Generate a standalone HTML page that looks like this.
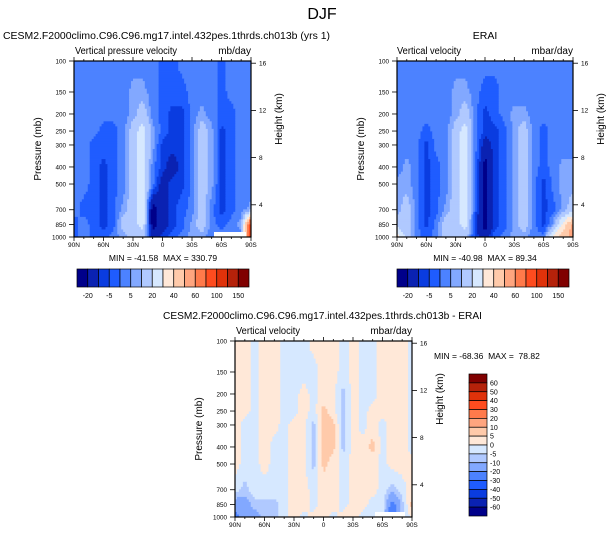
<!DOCTYPE html>
<html><head><meta charset="utf-8"><style>
html,body{margin:0;padding:0;background:#fff;}
svg{display:block;font-family:"Liberation Sans",sans-serif;}
</style></head><body>
<svg id="root" width="609" height="538" viewBox="0 0 609 538">
<text x="322" y="19" font-size="16" text-anchor="middle">DJF</text>
<text x="3" y="39" font-size="10.5" textLength="327" lengthAdjust="spacingAndGlyphs">CESM2.F2000climo.C96.C96.mg17.intel.432pes.1thrds.ch013b (yrs 1)</text>
<text x="485" y="39" font-size="10.5" text-anchor="middle">ERAI</text>
<text x="163" y="319" font-size="10.5" textLength="319" lengthAdjust="spacingAndGlyphs">CESM2.F2000climo.C96.C96.mg17.intel.432pes.1thrds.ch013b - ERAI</text>
<text x="75" y="54" font-size="10" textLength="102" lengthAdjust="spacingAndGlyphs">Vertical pressure velocity</text>
<text x="251" y="54" font-size="10" text-anchor="end">mb/day</text>
<text x="397" y="54" font-size="10" textLength="64" lengthAdjust="spacingAndGlyphs">Vertical velocity</text>
<text x="573" y="54" font-size="10" text-anchor="end">mbar/day</text>
<text x="236" y="334" font-size="10" textLength="64" lengthAdjust="spacingAndGlyphs">Vertical velocity</text>
<text x="412" y="334" font-size="10" text-anchor="end">mbar/day</text>
<text x="163" y="261" font-size="8.5" text-anchor="middle" xml:space="preserve">MIN = -41.58  MAX = 330.79</text>
<text x="485" y="261" font-size="8.5" text-anchor="middle" xml:space="preserve">MIN = -40.98  MAX = 89.34</text>
<text x="434" y="359" font-size="8.5" xml:space="preserve">MIN = -68.36  MAX =  78.82</text>
<g id="panels"></g>
</svg>
<script>
const lats = [90,80,70,60,50,40,30,20,10,0,-10,-20,-30,-40,-50,-60,-70,-80,-90];
const levels = [100,150,200,250,300,400,500,700,850,1000];
const latTicks = ["90N","60N","30N","0","30S","60S","90S"];
const heightTicks = [16,12,8,4];
const absBounds = [-20,-10,-5,0,5,10,20,30,40,50,60,80,100,120,150];
const absLabels = ["-20","-5","5","20","40","60","100","150"];
const diffBounds = [-60,-50,-40,-30,-20,-10,-5,0,5,10,20,30,40,50,60];
const diffLabels = ["-60","-50","-40","-30","-20","-10","-5","0","5","10","20","30","40","50","60"];
const colors = ["#00008a","#0a22b2","#0a3ce0","#1f5cff","#4c82ff","#82a8ff","#b0c9ff","#d6e8ff","#ffe8d8","#ffcaaa","#ffa57f","#ff7a4b","#ff4c1f","#e0320a","#b5220a","#800000"];

const modelOmega = [
[2,2,2,2,2,2,2,2,2,-2,-2,2,2,2,2,-2,2,2,2],
[2,2,2,2,2,2,7,7,2,-2,-2,-2,2,2,2,-2,2,2,2],
[2,2,2,2,2,2,7,15,2,-2,-7,-7,2,7,2,-2,-2,2,2],
[2,2,2,-2,-2,2,15,25,7,-2,-7,-7,2,15,7,-7,-2,2,2],
[2,2,-2,-2,-2,2,15,25,7,-7,-7,-7,2,15,7,-7,-2,2,2],
[2,2,-2,-7,-2,2,15,25,2,-7,-15,-7,2,15,7,-7,-2,2,2],
[2,2,-2,-7,-2,2,15,25,2,-15,-7,-7,2,15,7,-7,-2,2,2],
[2,-2,-2,-7,-2,7,15,25,-25,-15,-7,-2,2,15,2,-7,-2,2,7],
[-2,2,-2,-7,-2,15,15,25,-25,-15,-7,-2,7,15,2,-2,2,7,90],
[-2,2,-2,-2,2,7,15,15,-15,-7,-2,2,7,7,2,2,2,2,90]];
const eraiOmega = [
[2,2,2,2,2,2,2,2,2,2,2,2,2,2,2,2,2,2,2],
[2,2,2,2,2,2,7,7,2,-2,-2,2,2,2,2,2,2,2,2],
[2,2,2,2,2,2,7,15,2,-7,-2,2,7,7,2,2,2,2,2],
[2,2,2,-2,2,2,15,25,2,-7,-7,-2,7,15,2,-2,2,2,2],
[2,2,2,-7,2,2,15,25,2,-15,-7,-2,7,15,2,-2,2,2,2],
[2,7,2,-7,-2,2,15,25,2,-25,-7,-2,7,15,2,-2,2,7,7],
[7,7,2,-7,-2,2,15,25,-2,-25,-7,-2,7,15,2,-7,2,7,7],
[7,15,2,-7,-2,7,15,25,-2,-25,-7,-2,7,15,2,-7,-2,7,15],
[15,15,2,-7,2,15,15,25,-7,-25,-7,-2,7,15,2,-7,7,35,55],
[35,15,2,-2,2,15,15,15,-7,-15,-2,2,7,7,2,2,35,45,55]];
const diffOmega = [
[2,2,-2,2,2,-2,-2,-2,2,2,2,-2,2,-2,-2,2,2,2,-2],
[2,2,-2,2,2,-2,-2,-2,-2,2,2,-2,2,-2,-2,2,2,2,-2],
[2,2,-2,2,2,-2,-2,2,-2,2,2,-7,2,-2,-2,2,2,2,-2],
[2,2,-2,2,2,-2,-2,2,-2,7,2,-7,2,-2,2,2,2,2,-2],
[2,-2,-2,2,2,-2,2,2,-7,7,7,-7,2,-2,2,-2,2,2,-2],
[2,-2,-2,2,-2,-2,2,2,-7,7,7,-7,2,2,7,-2,2,2,-2],
[2,-2,-2,2,-2,-2,2,2,-7,7,2,-2,2,2,2,-2,2,2,2],
[-2,-7,-2,-2,-2,-2,2,2,-2,2,2,-2,2,2,2,-2,-7,-2,2],
[-15,-15,-7,-7,-7,-2,2,2,-2,2,2,-2,2,2,-2,-2,-25,-7,7],
[-25,-15,-15,-7,-7,-2,2,-2,2,2,-2,2,2,-2,-2,-2,-35,-7,2]];

const NS="http://www.w3.org/2000/svg";
const root=document.getElementById('panels');
function mk(tag,attrs,parent){const e=document.createElementNS(NS,tag);for(const k in attrs)e.setAttribute(k,attrs[k]);(parent||root).appendChild(e);return e;}
function classify(v,b){let i=0;while(i<b.length&&v>=b[i])i++;return i;}
function sample(grid,fi,fj){
  const i0=Math.min(Math.floor(fi),lats.length-2),j0=Math.min(Math.floor(fj),levels.length-2);
  const a=fi-i0,c=fj-j0;
  return grid[j0][i0]*(1-a)*(1-c)+grid[j0][i0+1]*a*(1-c)+grid[j0+1][i0]*(1-a)*c+grid[j0+1][i0+1]*a*c;
}
function drawPanel(name,ox,oy,w,h,grid,bounds,white){
  const g=mk('g',{});
  
  
  const xOf=lat=>ox+(90-lat)/180*w;
  const yOf=p=>oy+h*Math.log(p/100)/Math.log(10);
  const nx=90,ny=70;
  const lp0=Math.log(100),lp1=Math.log(1000);
  for(let r=0;r<ny;r++){
    const lp=lp0+(r+0.5)/ny*(lp1-lp0),p=Math.exp(lp);
    let fj=0;for(let j=0;j<levels.length-1;j++){if(p>=levels[j]&&p<=levels[j+1]){fj=j+(Math.log(p)-Math.log(levels[j]))/(Math.log(levels[j+1])-Math.log(levels[j]));}}
    const y0=yOf(Math.exp(lp0+r/ny*(lp1-lp0))),y1=yOf(Math.exp(lp0+(r+1)/ny*(lp1-lp0)));
    let runStart=0,runC=-1;
    for(let c=0;c<=nx;c++){
      let ci=-2;
      if(c<nx){const lat=90-(c+0.5)/nx*180;const fi=(90-lat)/10;ci=classify(sample(grid,fi,fj),bounds);}
      if(ci!==runC){
        if(runC>=0){const cell=mk('rect',{x:(ox+runStart/nx*w).toFixed(2),y:y0.toFixed(2),width:((c-runStart)/nx*w+0.4).toFixed(2),height:(y1-y0+0.4).toFixed(2),fill:colors[runC]},g);
          
          }
        runStart=c;runC=ci;
      }
    }
  }
  if(white){const wr=mk('rect',{x:white[0],y:white[1],width:white[2],height:white[3],fill:'#fff'},g);
    
    }
  const frame=mk('rect',{x:ox,y:oy,width:w,height:h,fill:'none',stroke:'#000','stroke-width':1.2});
  
  
  for(let lat=90;lat>=-90;lat-=10){
    const x=xOf(lat),major=lat%30===0,L=major?4:2;
    mk('line',{x1:x,x2:x,y1:oy+h,y2:oy+h+L,stroke:'#000','stroke-width':0.8});
    mk('line',{x1:x,x2:x,y1:oy,y2:oy-L,stroke:'#000','stroke-width':0.8});
  }
  latTicks.forEach((t,k)=>{const tx=mk('text',{x:xOf(90-30*k),y:oy+h+10,'font-size':6.5,'text-anchor':'middle'});tx.textContent=t;
    
    });
  levels.forEach(p=>{const y=yOf(p);mk('line',{x1:ox-5,x2:ox,y1:y,y2:y,stroke:'#000','stroke-width':0.8});
    const tx=mk('text',{x:ox-8,y:y+2.3,'font-size':6.3,'text-anchor':'end'});tx.textContent=p;
    
    });
  heightTicks.forEach(km=>{const y=oy+h+15-km*11.8;mk('line',{x1:ox+w,x2:ox+w+5,y1:y,y2:y,stroke:'#000','stroke-width':0.8});
    const tx=mk('text',{x:ox+w+8,y:y+2.3,'font-size':6.5});tx.textContent=km;
    
    });
  const yl=mk('text',{x:0,y:0,'font-size':10,'text-anchor':'middle',transform:`translate(${ox-33},${oy+h/2}) rotate(-90)`});yl.textContent='Pressure (mb)';
  
  
  const yr=mk('text',{x:0,y:0,'font-size':10,'text-anchor':'middle',transform:`translate(${ox+w+31},${oy+h/2-30}) rotate(-90)`});yr.textContent='Height (km)';
  
  
}
drawPanel('model',74,61,177,176,modelOmega,absBounds,[214,232,32,5]);
drawPanel('erai',397,61,176,176,eraiOmega,absBounds,null);
drawPanel('diff',235,341,177,176,diffOmega,diffBounds,[375,512,30,5]);

function hbar(name,x0,y0,w,h){
  const g=mk('g',{});
  
  
  const bw=w/colors.length;
  colors.forEach((c,i)=>{const r=mk('rect',{x:x0+i*bw,y:y0,width:bw,height:h,fill:c,stroke:'#000','stroke-width':0.7},g);
    
    });
  absLabels.forEach((t,k)=>{const tx=mk('text',{x:x0+(1+2*k)*bw,y:y0+h+11,'font-size':7,'text-anchor':'middle'},g);tx.textContent=t;
    
    });
}
hbar('model-colorbar',77,269,172,18);
hbar('erai-colorbar',397,269,172,18);
(function(){
  const g=mk('g',{});
  
  
  const x0=469,y0=374,w=18,H=142,bh=H/colors.length;
  colors.slice().reverse().forEach((c,i)=>{const r=mk('rect',{x:x0,y:y0+i*bh,width:w,height:bh,fill:c,stroke:'#000','stroke-width':0.7},g);
    
    });
  diffLabels.slice().reverse().forEach((t,k)=>{const tx=mk('text',{x:x0+w+3,y:y0+(k+1)*bh+2.5,'font-size':7},g);tx.textContent=t;
    
    });
})();
</script>
</body></html>
